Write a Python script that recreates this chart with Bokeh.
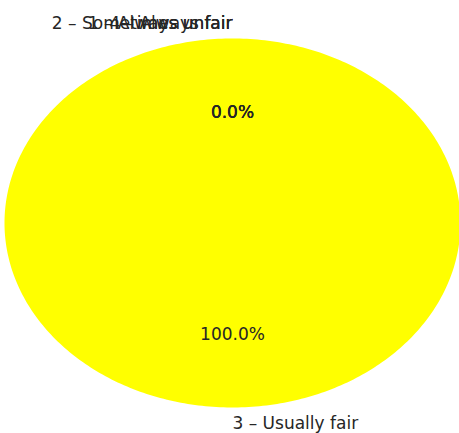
import numpy as np
from bokeh.plotting import figure
from bokeh.models import ColumnDataSource
from bokeh.embed import file_html
from bokeh.resources import INLINE
from bokeh.core.properties import value

categories = ["1 – Always unfair", "2 – Sometimes unfair", "3 – Usually fair", "4 – Always fair"]
shares = [0.0, 0.0, 100.0, 0.0]
colors = ["#1f77b4", "#ff7f0e", "#ffff00", "#d62728"]

W, H = 459, 433
p = figure(width=W, height=H, output_backend="svg", toolbar_location=None,
           x_range=(-1.0175, 0.9956), y_range=(-1.141, 1.206),
           min_border=0, outline_line_color=None)
p.axis.visible = False
p.grid.visible = False
p.background_fill_color = "white"
p.border_fill_color = "white"

vals = np.array(shares, dtype=float)
frac = vals / vals.sum()
start = np.pi / 2
xs, ys = [], []
lab_x, lab_y, lab_t, lab_a = [], [], [], []
pct_x, pct_y, pct_t = [], [], []
fill = []
theta = start
for cat, f, c in zip(categories, frac, colors):
    t1 = theta + 2 * np.pi * f
    mid = (theta + t1) / 2 if f > 0 else theta
    if f > 0:
        th = np.linspace(theta, t1, 400)
        xs.append(list(np.concatenate([[0.0], np.cos(th)])))
        ys.append(list(np.concatenate([[0.0], np.sin(th)])))
        fill.append(c)
    lab_x.append(1.09 * np.cos(mid))
    lab_y.append(1.085 * np.sin(mid))
    lab_t.append(cat)
    lab_a.append("left" if f > 0 else "right")
    pct_x.append(0.6 * np.cos(mid))
    pct_y.append(0.6 * np.sin(mid))
    pct_t.append(f"{f*100:.1f}%")
    theta = t1

p.patches(xs, ys, fill_color=fill, line_color=None)

src = ColumnDataSource(dict(x=lab_x, y=lab_y, t=lab_t, a=lab_a))
p.text("x", "y", text="t", text_align="a", source=src, text_baseline="middle",
       text_font=value("DejaVu Sans"), text_font_size="17px", text_color="#262626")

psrc = ColumnDataSource(dict(x=pct_x, y=pct_y, t=pct_t))
p.text("x", "y", text="t", source=psrc, text_align="center", text_baseline="middle",
       text_font=value("DejaVu Sans"), text_font_size="17px", text_color="#262626")

open("out.html", "w").write(file_html(p, INLINE))
